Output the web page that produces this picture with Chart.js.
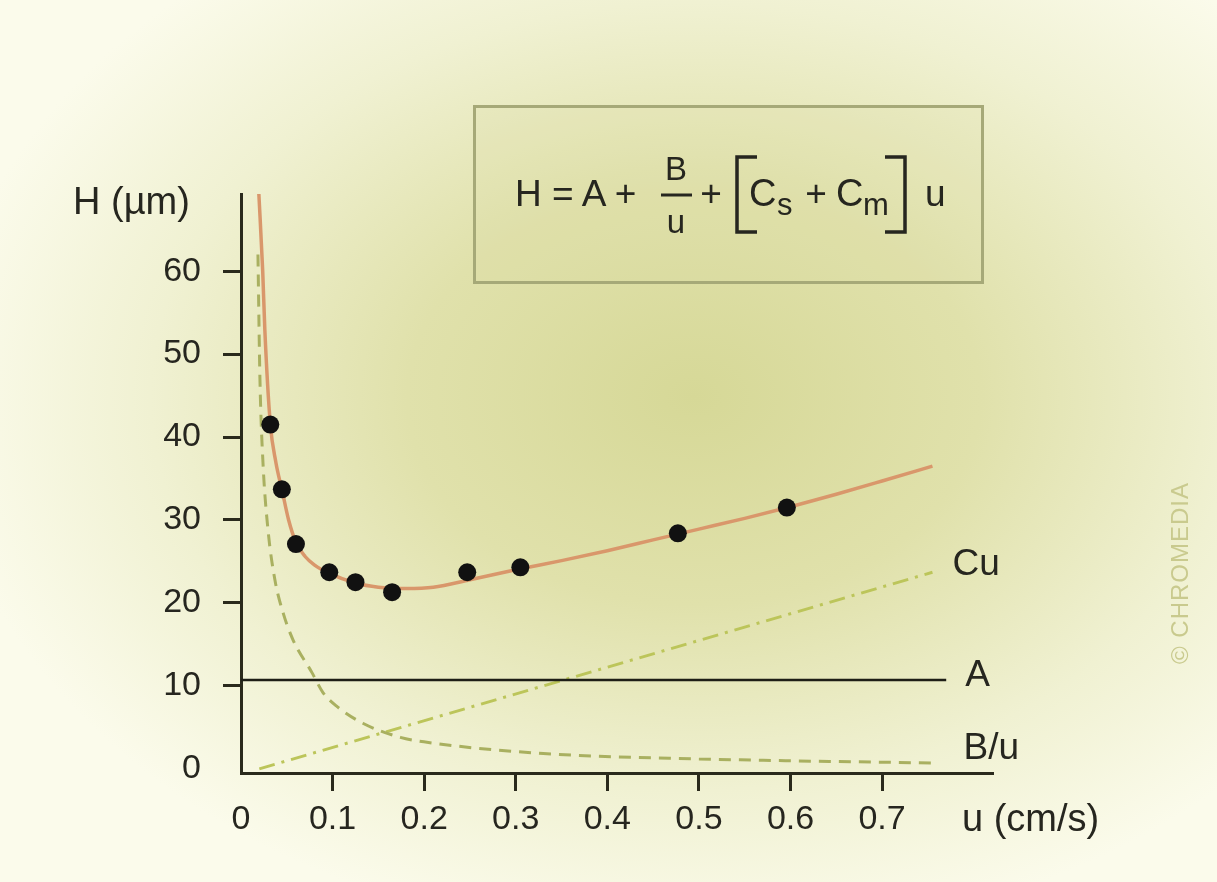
<!DOCTYPE html>
<html>
<head>
<meta charset="utf-8">
<title>Van Deemter plot</title>
<script src="https://cdn.jsdelivr.net/npm/chart.js@4.4.1/dist/chart.umd.min.js"></script>
<style>
    html, body { margin: 0; padding: 0; }
    #wrap {
        position: relative;
        width: 1217px;
        height: 882px;
        background: radial-gradient(ellipse 62% 62% at 57% 45%, #d6d897 0%, #e0e1ab 38%, #f0f1d2 72%, #fbfbeb 100%);
        overflow: hidden;
    }
    #chart { position: absolute; left: 0; top: 0; }
    #overlay { position: absolute; left: 0; top: 0; pointer-events: none; }
    #overlay text { font-family: "Liberation Sans", Arial, sans-serif; fill: #26261f; }
</style>
</head>
<body>
<div id="wrap">
    <canvas id="chart" width="1217" height="882"></canvas>
    <svg id="overlay" width="1217" height="882">
        <rect x="474.5" y="106.5" width="508" height="176" fill="rgba(215,217,160,0.16)" stroke="#a6a978" stroke-width="3"></rect>
        <text x="515" y="206" font-size="37">H = A +</text>
        <text x="676" y="180" font-size="33" text-anchor="middle">B</text>
        <line x1="661" y1="195" x2="692" y2="195" stroke="#26261f" stroke-width="3"></line>
        <text x="676" y="233" font-size="33" text-anchor="middle">u</text>
        <text x="711" y="206" font-size="37" text-anchor="middle">+</text>
        <path d="M757,157 L737,157 L737,232 L757,232" fill="none" stroke="#26261f" stroke-width="3.5"></path>
        <text x="749" y="206" font-size="38">C</text>
        <text x="777" y="215" font-size="31">s</text>
        <text x="816" y="206" font-size="37" text-anchor="middle">+</text>
        <text x="836" y="206" font-size="38">C</text>
        <text x="863" y="215" font-size="31">m</text>
        <path d="M885,157 L905,157 L905,232 L885,232" fill="none" stroke="#26261f" stroke-width="3.5"></path>
        <text x="925" y="206" font-size="37">u</text>
        <text x="0" y="0" font-size="24" text-anchor="middle" letter-spacing="1" style="fill:#c9ca8e" transform="translate(1188,573) rotate(-90)">© CHROMEDIA</text>
    </svg>
</div>
<script>
    "use strict";

    // Tick labels
    const xTickLabels = [0, 0.1, 0.2, 0.3, 0.4, 0.5, 0.6, 0.7];
    const yTickLabels = [0, 10, 20, 30, 40, 50, 60];

    // Measured plate heights
    const measuredU = [0.032, 0.0446, 0.06, 0.0964, 0.125, 0.165, 0.247, 0.305, 0.477, 0.596];
    const measuredH = [41.5, 33.7, 27.1, 23.7, 22.5, 21.3, 23.7, 24.3, 28.4, 31.5];

    // Fitted curve H
    const fitU = [0.0195, 0.0237, 0.026, 0.032, 0.038, 0.045, 0.052, 0.06, 0.07, 0.08, 0.096, 0.125, 0.15, 0.18, 0.21, 0.25, 0.3, 0.35, 0.4, 0.45, 0.5, 0.55, 0.6, 0.65, 0.7, 0.755];
    const fitH = [69.3, 60, 53, 41.6, 37, 33.5, 30, 27.3, 25.6, 24.6, 23.6, 22.4, 21.9, 21.75, 21.9, 22.8, 24, 25.1, 26.3, 27.6, 28.9, 30.2, 31.6, 33.1, 34.7, 36.5];

    // B/u term
    const bU = [0.0185, 0.0207, 0.024, 0.0295, 0.037, 0.046, 0.057, 0.0775, 0.0895, 0.105, 0.133, 0.174, 0.21, 0.33, 0.5, 0.755];
    const bH = [62, 46.9, 36.9, 28.8, 22.8, 18.8, 15.5, 11.6, 9.2, 7.5, 5.5, 3.8, 3.1, 1.85, 1.2, 0.7];

    // Cu term
    const cU = [0.02, 0.755];
    const cH = [0, 23.7];

    // A term
    const aU = [0, 0.77];
    const aH = [10.7, 10.7];

    const toPoints = (xs, ys) => xs.map((x, i) => ({ x: x, y: ys[i] }));
    const axisColor = "#2a2a1c";
    const textColor = "#26261f";
    const fontFamily = '"Liberation Sans", Arial, sans-serif';

    // Curve labels and axis titles
    const labelPlugin = {
        id: "labels",
        afterDraw(chart) {
            const ctx = chart.ctx;
            const xs = chart.scales.x;
            const ys = chart.scales.y;
            const area = chart.chartArea;
            const endOf = (us, hs) => ({
                x: xs.getPixelForValue(us[us.length - 1]),
                y: ys.getPixelForValue(hs[hs.length - 1]),
            });
            ctx.save();
            ctx.fillStyle = textColor;
            ctx.font = "37px " + fontFamily;
            ctx.textBaseline = "middle";
            ctx.textAlign = "left";
            const c = endOf(cU, cH);
            ctx.fillText("Cu", c.x + 20, c.y - 7);
            const a = endOf(aU, aH);
            ctx.fillText("A", a.x + 19, a.y - 4);
            const b = endOf(bU, bH);
            ctx.fillText("B/u", b.x + 31, b.y - 14);

            ctx.font = "38px " + fontFamily;
            ctx.textBaseline = "alphabetic";
            ctx.fillText("H (µm)", area.left - 168, area.top + 20);
            ctx.textBaseline = "middle";
            ctx.fillText("u (cm/s)", area.right - 30, area.bottom + 48);
            ctx.restore();
        },
    };

    const ctx = document.getElementById("chart").getContext("2d");
    new Chart(ctx, {
        type: "scatter",
        data: {
            datasets: [
                {
                    data: toPoints(measuredU, measuredH),
                    pointRadius: 9,
                    pointBackgroundColor: "#111",
                    pointBorderWidth: 0,
                    showLine: false,
                    order: 0,
                },
                {
                    data: toPoints(fitU, fitH),
                    showLine: true,
                    borderColor: "#d9976b",
                    borderWidth: 3.5,
                    pointRadius: 0,
                    cubicInterpolationMode: "monotone",
                    order: 1,
                },
                {
                    data: toPoints(aU, aH),
                    showLine: true,
                    borderColor: "#1e1e16",
                    borderWidth: 2.5,
                    pointRadius: 0,
                    order: 2,
                },
                {
                    data: toPoints(bU, bH),
                    showLine: true,
                    borderColor: "#a9b060",
                    borderWidth: 3,
                    borderDash: [12, 8],
                    pointRadius: 0,
                    cubicInterpolationMode: "monotone",
                    order: 3,
                },
                {
                    data: toPoints(cU, cH),
                    showLine: true,
                    borderColor: "#bcc55a",
                    borderWidth: 3,
                    borderDash: [16, 7, 3, 7],
                    pointRadius: 0,
                    order: 4,
                },
            ],
        },
        options: {
            responsive: false,
            animation: false,
            devicePixelRatio: 1,
            layout: {
                padding: { left: 131, top: 194, right: 225, bottom: 0 },
            },
            plugins: {
                legend: { display: false },
                tooltip: { enabled: false },
            },
            scales: {
                x: {
                    type: "linear",
                    min: 0,
                    max: 0.82,
                    afterBuildTicks: (scale) => {
                        scale.ticks = xTickLabels.map((v) => ({ value: v }));
                    },
                    afterFit: (scale) => {
                        scale.height = 109;
                    },
                    border: { display: true, color: axisColor, width: 3 },
                    grid: {
                        drawOnChartArea: false,
                        drawTicks: true,
                        tickLength: 18,
                        lineWidth: 3,
                        color: (c) => (c.tick && c.tick.value === 0 ? "rgba(0,0,0,0)" : axisColor),
                    },
                    ticks: {
                        color: textColor,
                        font: { family: fontFamily, size: 34 },
                        padding: 8,
                        maxRotation: 0,
                        autoSkip: false,
                        callback: (v) => String(v),
                    },
                },
                y: {
                    type: "linear",
                    min: -0.5,
                    max: 69.3,
                    afterBuildTicks: (scale) => {
                        scale.ticks = yTickLabels.map((v) => ({ value: v }));
                    },
                    afterFit: (scale) => {
                        scale.width = 110;
                    },
                    border: { display: true, color: axisColor, width: 3 },
                    grid: {
                        drawOnChartArea: false,
                        drawTicks: true,
                        tickLength: 18,
                        lineWidth: 3,
                        color: (c) => (c.tick && c.tick.value === 0 ? "rgba(0,0,0,0)" : axisColor),
                    },
                    ticks: {
                        color: textColor,
                        font: { family: fontFamily, size: 34 },
                        padding: 22,
                        autoSkip: false,
                        callback: (v) => String(v),
                    },
                },
            },
        },
        plugins: [labelPlugin],
    });
</script>
</body>
</html>
